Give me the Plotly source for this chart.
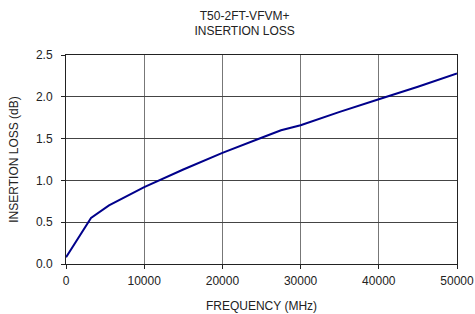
import plotly.graph_objects as go

freq_mhz = [10, 3200, 5500, 10000, 15000, 20000, 25000, 27500, 30000, 35000, 40000, 45000, 50000]
insertion_loss_db = [0.08, 0.55, 0.70, 0.92, 1.13, 1.33, 1.51, 1.60, 1.66, 1.82, 1.97, 2.12, 2.28]
x_ticks = [0, 10000, 20000, 30000, 40000, 50000]
y_ticks = [0.0, 0.5, 1.0, 1.5, 2.0, 2.5]

fig = go.Figure(go.Scatter(x=freq_mhz, y=insertion_loss_db, mode="lines",
                           line=dict(color="#00008B", width=2)))

font = "Liberation Sans, Arial, sans-serif"
fig.update_layout(
    width=475, height=314,
    margin=dict(l=66, r=18, t=55, b=50),
    paper_bgcolor="white", plot_bgcolor="white",
    showlegend=False,
    font=dict(family=font, size=12, color="#222"),
    title=dict(text="T50-2FT-VFVM+<br>INSERTION LOSS", x=0.515, xanchor="center",
               y=0.937, yanchor="top", font=dict(size=12, color="#222")),
)
fig.update_xaxes(range=[0, 50000], tickvals=x_ticks, ticktext=[str(v) for v in x_ticks],
                 automargin=False,
                 showgrid=True, gridcolor="#777", gridwidth=1,
                 showline=True, linecolor="#222", linewidth=1, mirror=True,
                 ticks="outside", ticklen=4, tickcolor="#222",
                 tickfont=dict(size=12), ticklabelstandoff=2,
                 title=dict(text="FREQUENCY (MHz)", font=dict(size=12), standoff=14),
                 zeroline=False)
fig.update_yaxes(range=[0, 2.5], tickvals=y_ticks, ticktext=[f"{v:.1f}" for v in y_ticks],
                 automargin=False,
                 showgrid=True, gridcolor="#444", gridwidth=1,
                 showline=True, linecolor="#222", linewidth=1, mirror=True,
                 ticks="outside", ticklen=4, tickcolor="#222",
                 tickfont=dict(size=12), ticklabelstandoff=6,
                 title=dict(text="INSERTION LOSS (dB)", font=dict(size=12), standoff=14),
                 zeroline=False)

fig.write_html("out.html", config={"displayModeBar": False},
               post_script="document.body.style.margin='0';")
